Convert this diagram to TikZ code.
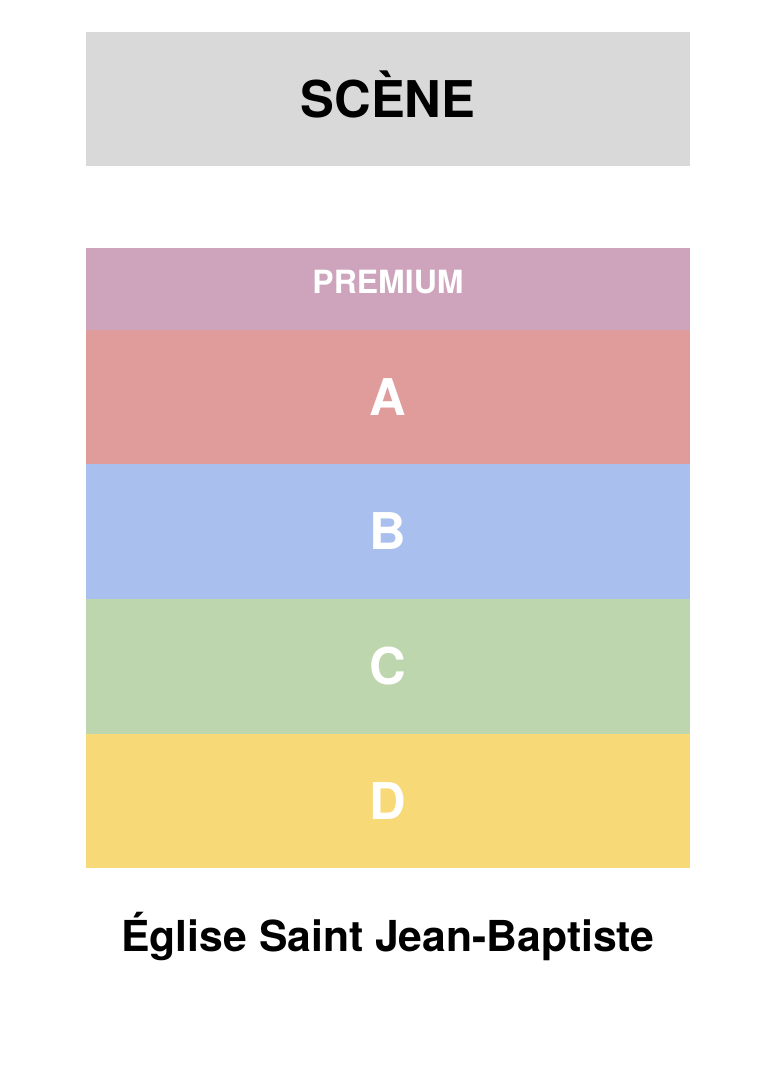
\documentclass[tikz,border=0pt]{standalone}
\usepackage{fontspec}
\setmainfont{TeX Gyre Heros}
\definecolor{scenegray}{HTML}{D9D9D9}
\definecolor{premiumcol}{HTML}{CDA4BC}
\definecolor{rowAcol}{HTML}{E09C9B}
\definecolor{rowBcol}{HTML}{A9C0EE}
\definecolor{rowCcol}{HTML}{BED6AD}
\definecolor{rowDcol}{HTML}{F8D978}

\begin{document}
\begin{tikzpicture}[x=0.75pt, y=-0.75pt,
    zone/.style={rectangle, inner sep=0pt, outer sep=0pt, minimum width=453pt, text=white,
      text height=27.4pt, text depth=0pt, font=\fontsize{38}{38}\selectfont\bfseries}]
        \useasboundingbox (0,0) rectangle (772,1084);
        \node[zone, fill=scenegray, text=black, minimum height=100.5pt] (scene) at (388,99) {SCÈNE};
        \node[zone, fill=premiumcol, minimum height=61.5pt, text height=17.3pt, text depth=10.5pt,
          font=\fontsize{24}{24}\selectfont\bfseries] (premium) at (388,289) {PREMIUM};
        \foreach \r/\yc in {A/397, B/531.5, C/666.5, D/801} {
          \node[zone, fill=row\r col, minimum height=101pt] (row\r) at (388,\yc) {\r};
        }
        \node[font=\fontsize{32}{32}\selectfont\bfseries, anchor=base] (church) at (388,951) {Église Saint Jean-Baptiste};
      \end{tikzpicture}
\end{document}
